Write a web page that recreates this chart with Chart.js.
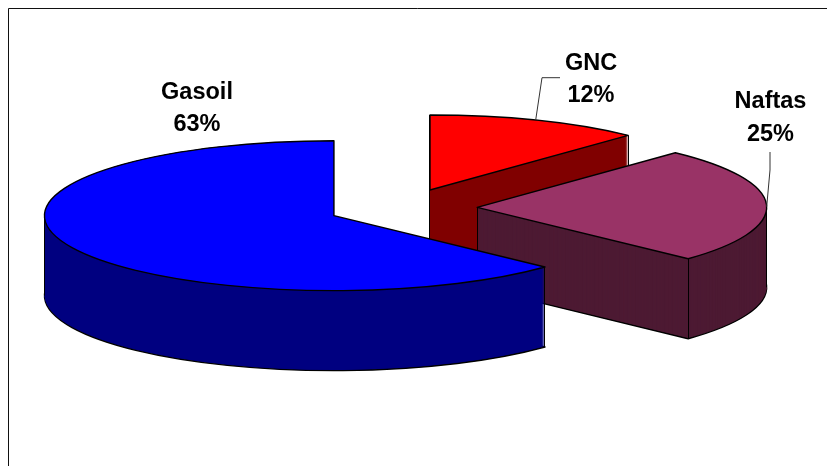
<!DOCTYPE html>
<html>
<head>
<meta charset="utf-8">
<style>html,body{margin:0;padding:0;background:#fff}#wrap{width:827px;height:466px;position:relative}</style>
<script src="https://cdn.jsdelivr.net/npm/chart.js@4"></script>
</head>
<body>
<div id="wrap"><canvas id="c" width="827" height="466"></canvas></div>
<script>
const categories = ['GNC', 'Naftas', 'Gasoil'];
const shares = [12, 25, 63];
const topColors = ['#FF0000', '#993366', '#0000FF'];
const wallColors = ['#800000', '#4D1A33', '#000080'];

const RADIUS = 289.5, SQUASH = 0.259, DEPTH = 80, EXPLODE = 74.7;
const labelSpots = [
  { x: 591, y1: 70, y2: 102, leader: [[535.7,120],[542,77.7],[560,77.7]] },
  { x: 770.5, y1: 108, y2: 141, leader: [[766.7,206.7],[770,170],[770,152]] },
  { x: 197, y1: 99, y2: 131, leader: null }
];

const pie3d = {
  id: 'pie3d',
  beforeDatasetsDraw(chart) {
    const ctx = chart.ctx;
    const arcs = chart.getDatasetMeta(0).data;
    const TAU = Math.PI * 2;
    const within = (t, a, b) => { while (t < a) t += TAU; return t <= b; };

    arcs.forEach((arc, i) => {
      const { x, y, startAngle: a0, endAngle: a1, outerRadius: R } = arc.getProps(['x','y','startAngle','endAngle','outerRadius'], true);
      const mid = (a0 + a1) / 2;
      const cx = x + Math.cos(mid) * EXPLODE;
      const cy = y + Math.sin(mid) * EXPLODE * SQUASH;
      const ry = R * SQUASH;
      const path = dy => {
        ctx.beginPath();
        ctx.moveTo(cx, cy + dy);
        ctx.ellipse(cx, cy + dy, R, ry, 0, a0, a1);
        ctx.closePath();
      };
      ctx.save();
      ctx.lineWidth = 1.4;
      ctx.lineJoin = 'round';
      ctx.strokeStyle = '#000';
      ctx.fillStyle = wallColors[i];
      path(DEPTH); ctx.fill(); ctx.stroke();
      for (let d = DEPTH - 1; d >= 0; d--) { path(d); ctx.fill(); }
      // vertical wall edges, snapped to whole pixels so they stay crisp
      const verts = [[cx + Math.cos(a0) * R, cy + Math.sin(a0) * ry], [cx + Math.cos(a1) * R, cy + Math.sin(a1) * ry]];
      if (within(0, a0, a1)) verts.push([cx + R, cy]);
      if (within(Math.PI, a0, a1)) verts.push([cx - R, cy]);
      if (!within(Math.PI / 2, a0, a1)) verts.push([cx, cy]);
      ctx.lineWidth = 1;
      verts.forEach(v => {
        const vx = Math.floor(v[0]) + 0.5;
        ctx.beginPath();
        ctx.moveTo(vx, v[1]);
        ctx.lineTo(vx, v[1] + DEPTH);
        ctx.stroke();
      });
      ctx.lineWidth = 1.4;
      ctx.fillStyle = topColors[i];
      path(0); ctx.fill(); ctx.stroke();
      ctx.restore();
    });

    // frame
    ctx.save();
    ctx.strokeStyle = '#111';
    ctx.lineWidth = 1;
    ctx.beginPath();
    ctx.moveTo(8.5, chart.height);
    ctx.lineTo(8.5, 8.5);
    ctx.lineTo(chart.width, 8.5);
    ctx.stroke();

    // labels and leaders
    ctx.font = 'bold 23.5px "Liberation Sans", Arial, sans-serif';
    ctx.textAlign = 'center';
    ctx.textBaseline = 'alphabetic';
    ctx.fillStyle = '#000';
    categories.forEach((name, i) => {
      const s = labelSpots[i];
      ctx.fillText(name, s.x, s.y1);
      ctx.fillText(shares[i] + '%', s.x, s.y2);
      if (s.leader) {
        ctx.strokeStyle = '#333';
        ctx.lineWidth = 1;
        ctx.beginPath();
        s.leader.forEach((p, k) => k ? ctx.lineTo(p[0], p[1]) : ctx.moveTo(p[0], p[1]));
        ctx.stroke();
      }
    });
    ctx.restore();
    return false;
  }
};

new Chart(document.getElementById('c'), {
  type: 'pie',
  data: {
    labels: categories,
    datasets: [{ data: shares, backgroundColor: topColors, borderWidth: 0 }]
  },
  options: {
    responsive: false,
    animation: false,
    radius: RADIUS,
    rotation: 0,
    layout: { padding: { left: 0, top: 0, right: 22, bottom: 50 } },
    plugins: { legend: { display: false }, tooltip: { enabled: false }, title: { display: false } }
  },
  plugins: [pie3d]
});
</script>
</body>
</html>
